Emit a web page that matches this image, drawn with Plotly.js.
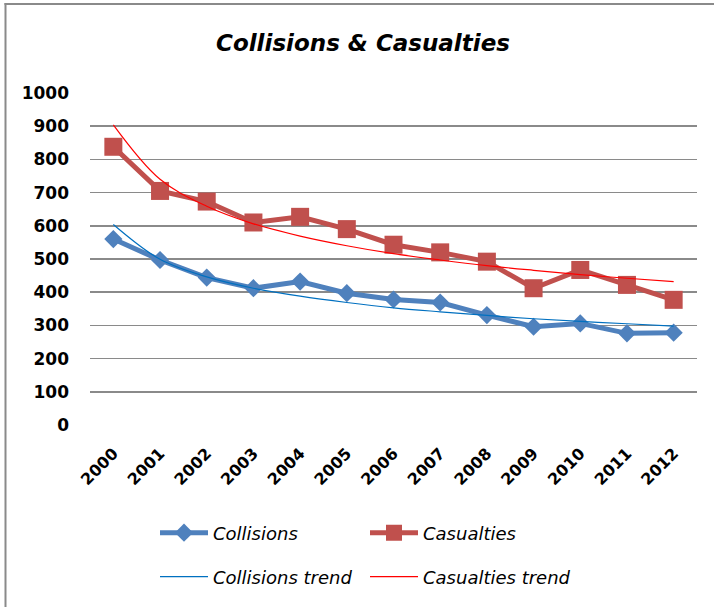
<!DOCTYPE html>
<html>
<head>
<meta charset="utf-8">
<script src="https://cdn.plot.ly/plotly-3.0.1.min.js"></script>
<style>
  html, body { margin: 0; padding: 0; background: #ffffff; }
  #chart { width: 714px; height: 607px; }
</style>
</head>
<body>
<div id="chart"></div>
<script>
const years = ['2000','2001','2002','2003','2004','2005','2006','2007','2008','2009','2010','2011','2012'];
const collisions = [560, 497, 444, 412, 432, 397, 378, 369, 331, 296, 306, 276, 278];
const casualties = [838, 705, 673, 610, 627, 590, 543, 520, 492, 412, 467, 422, 377];
const collisionsTrend = [604, 499, 446, 412, 388, 369, 353, 341, 330, 320, 312, 305, 298];
const casualtiesTrend = [904, 740, 659, 606, 569, 540, 516, 497, 480, 466, 453, 442, 432];
const yTicks = [0, 100, 200, 300, 400, 500, 600, 700, 800, 900, 1000];

const FONT = 'DejaVu Sans, Open Sans, sans-serif';

const traces = [
  {
    x: years, y: collisions, name: 'Collisions', type: 'scatter', mode: 'lines+markers',
    line: { color: '#4F81BD', width: 5 },
    marker: { symbol: 'diamond', size: 14, color: '#4F81BD' },
    legend: 'legend'
  },
  {
    x: years, y: casualties, name: 'Casualties', type: 'scatter', mode: 'lines+markers',
    line: { color: '#C0504D', width: 5 },
    marker: { symbol: 'square', size: 18, color: '#C0504D' },
    legend: 'legend'
  },
  {
    x: years, y: collisionsTrend, name: 'Collisions trend', type: 'scatter', mode: 'lines',
    line: { color: '#0070C0', width: 1.2, shape: 'spline' },
    legend: 'legend2'
  },
  {
    x: years, y: casualtiesTrend, name: 'Casualties trend', type: 'scatter', mode: 'lines',
    line: { color: '#FF0000', width: 1.2, shape: 'spline' },
    legend: 'legend2'
  }
];

const legendCommon = {
  orientation: 'h',
  xref: 'container', yref: 'container',
  x: 155 / 714, xanchor: 'left', yanchor: 'middle',
  font: { family: FONT, size: 18, color: '#000000', style: 'italic' },
  itemwidth: 48,
  entrywidth: 147,
  bgcolor: 'rgba(0,0,0,0)',
  itemclick: false, itemdoubleclick: false
};

const layout = {
  width: 714, height: 607,
  paper_bgcolor: '#ffffff', plot_bgcolor: '#ffffff',
  margin: { l: 90, r: 17, t: 93, b: 182, pad: 0 },
  title: {
    text: '<b><i>Collisions &amp; Casualties</i></b>',
    font: { family: FONT, size: 23, color: '#000000' },
    x: 363 / 714, xanchor: 'center', xref: 'container',
    y: 1 - 43 / 607, yanchor: 'middle', yref: 'container'
  },
  xaxis: {
    type: 'category',
    categoryorder: 'array', categoryarray: years,
    range: [-0.5, 12.5],
    tickangle: -45,
    tickfont: { family: FONT, size: 16, color: '#000000', weight: 'bold' },
    ticklabelstandoff: 15,
    showgrid: false, zeroline: false, showline: false, ticks: ''
  },
  yaxis: {
    range: [0, 1000],
    tickmode: 'array', tickvals: yTicks, ticktext: yTicks.map(String),
    tickfont: { family: FONT, size: 17, color: '#000000', weight: 'bold' },
    showgrid: true, gridcolor: '#8a8a8a', gridwidth: 1.6,
    zeroline: false, showline: false, ticks: '',
    ticklabelstandoff: 20
  },
  legend: Object.assign({}, legendCommon, { y: 1 - 533 / 607 }),
  legend2: Object.assign({}, legendCommon, { y: 1 - 577 / 607 }),
  shapes: [
    { type: 'line', xref: 'paper', yref: 'paper',
      x0: (5.5 - 90) / 607, x1: (5.5 - 90) / 607, y0: (425 - 620) / 332, y1: (425 - 3) / 332,
      line: { color: '#8a8a8a', width: 2 } },
    { type: 'line', xref: 'paper', yref: 'paper',
      x0: (4.5 - 90) / 607, x1: (730 - 90) / 607, y0: (425 - 4) / 332, y1: (425 - 4) / 332,
      line: { color: '#8a8a8a', width: 2 } }
  ],
  showlegend: true,
  hovermode: false
};

Plotly.newPlot('chart', traces, layout, { displayModeBar: false, staticPlot: true });
</script>
</body>
</html>
